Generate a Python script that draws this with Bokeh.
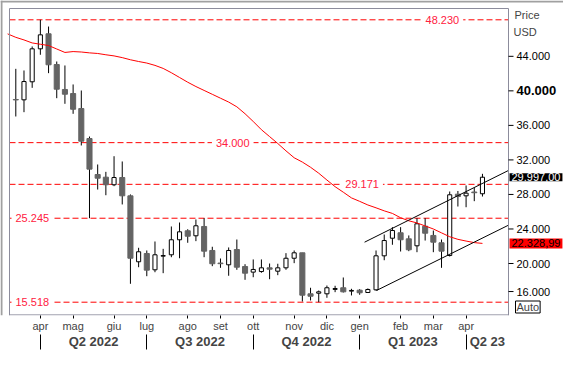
from bokeh.plotting import figure
from bokeh.models import Label, FixedTicker, LinearAxis, Range1d, ColumnDataSource
from bokeh.embed import file_html
from bokeh.resources import INLINE
from bokeh.core.properties import value

# ---- weekly OHLC (USD), one candle per week, first week = mid March 2022 ----
opens = [39.00, 38.96, 41.05, 44.87, 46.61, 43.05, 40.16, 39.69, 37.95, 34.48,
         30.31, 30.00, 29.12, 29.96, 27.84, 20.20, 21.16, 19.27, 20.85, 21.01,
         22.75, 23.79, 23.21, 24.29, 21.51, 20.05, 19.85, 21.62, 19.65, 19.00,
         19.07, 19.50, 19.11, 19.50, 20.61, 21.24, 16.49, 16.56, 16.49, 17.00,
         17.19, 16.80, 16.91, 16.64, 16.95, 20.89, 22.93, 23.56, 22.86, 22.05,
         24.32, 23.25, 22.40, 20.93, 28.03, 27.84, 28.28, 28.08]
highs = [42.55, 42.36, 45.14, 48.23, 47.45, 43.40, 42.94, 40.74, 40.04, 34.71,
         31.47, 30.62, 32.43, 31.82, 28.00, 21.82, 21.51, 22.55, 21.70, 24.29,
         24.75, 23.97, 25.10, 25.25, 21.94, 20.58, 21.86, 22.78, 19.92, 20.47,
         20.47, 20.00, 19.97, 21.20, 21.51, 21.24, 17.19, 16.87, 17.45, 17.42,
         18.38, 17.07, 17.03, 17.11, 21.51, 23.36, 24.21, 24.21, 23.25, 25.25,
         25.25, 23.82, 22.78, 28.34, 28.40, 29.04, 28.77, 30.39]
lows = [37.03, 37.53, 40.35, 44.18, 42.05, 39.15, 38.50, 37.34, 33.67, 25.25,
        28.57, 27.91, 28.96, 26.84, 17.65, 19.57, 18.53, 18.99, 18.88, 20.73,
        20.61, 22.40, 22.59, 20.73, 19.69, 19.50, 18.58, 19.27, 18.11, 18.41,
        18.93, 18.18, 18.65, 19.27, 20.04, 15.60, 15.72, 15.518, 16.03, 16.68,
        16.64, 16.30, 16.38, 16.61, 16.87, 20.38, 22.17, 21.39, 21.43, 21.31,
        22.66, 21.31, 19.50, 20.81, 26.60, 26.52, 27.22, 27.76]
closes = [38.95, 41.08, 44.87, 46.49, 43.02, 40.19, 39.61, 37.87, 34.17, 30.93,
          29.88, 29.12, 29.96, 27.84, 20.61, 21.36, 19.23, 21.01, 20.92, 22.75,
          23.67, 23.16, 24.37, 21.43, 19.97, 19.98, 21.51, 19.57, 18.88, 19.31,
          19.50, 19.34, 19.50, 20.61, 21.24, 16.33, 16.21, 16.72, 17.19, 17.10,
          16.72, 16.88, 16.61, 16.99, 20.89, 22.66, 23.82, 22.75, 21.59, 24.60,
          23.51, 22.47, 21.43, 27.96, 27.76, 28.15, 28.20, 29.997]

# moving average, first value belongs to the week before the first candle
ma_values = [46.60, 46.20, 45.90, 45.55, 45.40, 45.25, 44.85, 44.45, 44.55, 44.50,
             44.40, 44.33, 44.18, 44.05, 43.85, 43.60, 43.40, 43.22, 42.95, 42.60,
             42.10, 41.55, 41.00, 40.50, 40.05, 39.60, 39.15, 38.70, 38.15, 37.35,
             36.45, 35.50, 34.70, 33.90, 33.05, 32.25, 31.75, 31.15, 30.46, 29.67,
             28.90, 28.26, 27.60, 27.20, 26.78, 26.45, 26.10, 25.80, 25.30, 24.95,
             24.70, 24.35, 24.00, 23.55, 23.10, 22.80, 22.60, 22.42, 22.33]

month_ticks = [3, 7, 12, 16, 21, 25, 29, 34, 38, 42, 47, 51, 55]
month_labels = ["apr", "mag", "giu", "lug", "ago", "set", "ott", "nov", "dic",
                "gen", "feb", "mar", "apr"]
quarter_bounds = [3, 16, 29, 42, 55]
quarter_centers = [9.5, 22.5, 35.5, 48.5, 57.6]
quarter_labels = ["Q2 2022", "Q3 2022", "Q4 2022", "Q1 2023", "Q2 23"]
price_ticks = [16, 20, 24, 28, 32, 36, 44]
price_labels = ["16.000", "20.000", "24.000", "28.000", "32.000", "36.000", "44.000"]
bold_tick = 40
bold_label = "40.000"

levels = [48.230, 34.000, 29.171, 25.245, 15.518]
level_texts = ["48.230", "34.000", "29.171", "25.245", "15.518"]
level_label_x = [52.1, 26.5, 42.3, None, None]

last_price = 29.997
last_text = "29.997,00"
ma_last = 22.32899
ma_text = "22.328,99"

upper_x = [42.6, 60.2]
upper_y = [22.47, 30.79]
lower_x = [44.05, 60.2]
lower_y = [16.87, 24.45]

# ---- geometry: chart area 499 x 307 px, right price panel ----
W, H = 563, 360
X0, X1 = -0.77, 60.18          # chart area data span (weeks)
Y0, Y1 = 13.977, 49.54         # chart area data span (price)
CL, CT, CR, CB = 9, 8, 508, 315
PPX = (CR - CL) / (X1 - X0)
PPY = (CB - CT) / (Y1 - Y0)
XL = X0 - CL / PPX
XR = X1 + (W - CR) / PPX
YT = Y1 + CT / PPY
LOW_TICK_LIFT = 6.5 / PPY      # lowest price label is lifted clear of the "Auto" box

FONT = "Liberation Sans"
LVL_COLOR = "#ff2040"
BORDER = "#8c8c9c"

p = figure(width=W, height=H, x_range=Range1d(XL, XR), y_range=Range1d(Y0, YT),
           output_backend="svg", toolbar_location=None, y_axis_location=None,
           min_border_left=0, min_border_right=0, min_border_top=0, min_border_bottom=H - CB,
           background_fill_color="white", border_fill_color="white",
           outline_line_color=None)
p.grid.visible = False

# month axis
xa = p.xaxis[0]
xa.ticker = FixedTicker(ticks=month_ticks)
xa.major_label_overrides = {t: lab for t, lab in zip(month_ticks, month_labels)}
xa.major_label_text_font = FONT
xa.major_label_text_font_size = "11px"
xa.major_tick_out = 3
xa.major_tick_in = 0
xa.minor_tick_line_color = None
xa.axis_line_color = None
xa.major_label_standoff = 1

# quarter axis
qa = LinearAxis(ticker=FixedTicker(ticks=quarter_centers, minor_ticks=quarter_bounds),
                major_label_overrides={t: lab for t, lab in zip(quarter_centers, quarter_labels)},
                major_tick_line_color=None, major_tick_out=0, major_tick_in=0,
                minor_tick_out=15, minor_tick_in=0, minor_tick_line_color="black",
                axis_line_color=None, major_label_standoff=-16,
                major_label_text_font=FONT, major_label_text_font_size="13px",
                major_label_text_font_style="bold")
p.add_layout(qa, "below")

# outer window frame (top / left)
p.segment(x0=[XL, XL + 1 / PPX], y0=[YT - 1 / PPY, Y0], x1=[XR, XL + 1 / PPX], y1=[YT - 1 / PPY, YT],
          line_color="#a0a0a0", line_width=2)

# horizontal levels
p.segment(x0=[X0] * len(levels), x1=[X1] * len(levels), y0=levels, y1=levels,
          line_color="#ff0000", line_dash="6 3", line_width=1)

# candles
idx = list(range(len(opens)))
up = [i for i in idx if closes[i] >= opens[i]]
dn = [i for i in idx if closes[i] < opens[i]]
src_all = ColumnDataSource(dict(x=idx, lo=lows, hi=highs))
p.segment(x0="x", y0="lo", x1="x", y1="hi", source=src_all, line_color="black", line_width=1)
src_dn = ColumnDataSource(dict(x=dn, top=[opens[i] for i in dn], bot=[closes[i] for i in dn]))
p.vbar(x="x", top="top", bottom="bot", width=0.62, source=src_dn,
       fill_color="#646464", line_color="#646464", line_width=1)
src_up = ColumnDataSource(dict(x=up, top=[closes[i] for i in up], bot=[opens[i] for i in up]))
p.vbar(x="x", top="top", bottom="bot", width=0.5, source=src_up,
       fill_color="white", line_color="black", line_width=1)

# moving average and channel
ma_idx = list(range(-1, len(ma_values) - 1))
p.line(ma_idx, ma_values, line_color="#ff0000", line_width=1)
p.line(upper_x, upper_y, line_color="black", line_width=1)
p.line(lower_x, lower_y, line_color="black", line_width=1)

# chart area border
yb = Y0 + 0.6 / PPY
p.segment(x0=[X0, X1, X0, X0], y0=[Y0, Y0, Y1, yb], x1=[X0, X1, X1, X1], y1=[Y1, Y1, Y1, yb],
          line_color=BORDER, line_width=1)

# price scale (right panel)
tick_pos = [t + (LOW_TICK_LIFT if t == min(price_ticks) else 0) for t in price_ticks]
p.segment(x0=[X1] * (len(tick_pos) + 1), x1=[X1 + 5 / PPX] * (len(tick_pos) + 1),
          y0=tick_pos + [bold_tick], y1=tick_pos + [bold_tick], line_color="black", line_width=1)
p.text(x=[X1] * len(tick_pos), y=tick_pos, text=price_labels, x_offset=8,
       text_baseline="middle", text_align="left", text_font=value(FONT),
       text_font_size="11px", text_color="black")
p.text(x=[X1], y=[bold_tick], text=[bold_label], x_offset=8, text_baseline="middle",
       text_align="left", text_font=value(FONT), text_font_size="13px",
       text_font_style="bold", text_color="black")

# level labels
for lvl, txt, lx in zip(levels, level_texts, level_label_x):
    if lx is None:
        lab = Label(x=X0, y=lvl, x_offset=2, text=txt, text_align="left")
    else:
        lab = Label(x=lx, y=lvl, text=txt, text_align="center")
    lab.text_baseline = "middle"
    lab.text_color = LVL_COLOR
    lab.text_font = FONT
    lab.text_font_size = "11px"
    lab.background_fill_color = "white"
    lab.padding = dict(left=4, right=4, top=0, bottom=0)
    p.add_layout(lab)

def side_label(y, txt, dx, **kw):
    lab = Label(x=X1, y=y, x_offset=dx, text=txt, text_align="left", text_baseline="middle",
                text_font=FONT, text_font_size=kw.pop("size", "11px"), **kw)
    p.add_layout(lab)
    return lab

side_label(48.73, "Price", 6)
side_label(46.87, "USD", 5)
side_label(last_price, last_text, 1, text_color="white", background_fill_color="black",
           padding=dict(left=2, right=2, top=0, bottom=0))
side_label(ma_last, ma_text, 1, text_color="black", background_fill_color="#ff0000",
           padding=dict(left=2, right=2, top=1, bottom=1))
side_label(14.96, "Auto", 7, background_fill_color="white", border_line_color="black",
           padding=dict(left=1, right=1, top=0, bottom=0))

open("out.html", "w").write(file_html(p, INLINE))
